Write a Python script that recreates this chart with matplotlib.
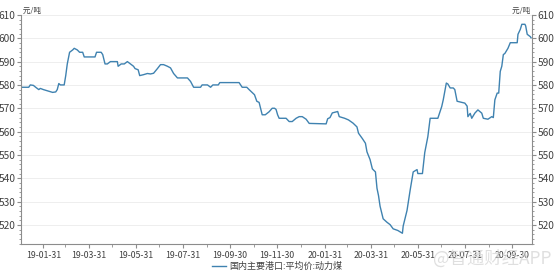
import pandas as pd
import matplotlib.pyplot as plt
import matplotlib.dates as mdates
from matplotlib.ticker import MultipleLocator

plt.rcParams['font.family'] = ['Noto Sans CJK SC', 'DejaVu Sans']

# 国内主要港口:平均价:动力煤 (元/吨)
dates = [
    "2019-01-02", "2019-01-12", "2019-01-14", "2019-01-18", "2019-01-21", "2019-01-25",
    "2019-01-27", "2019-01-31", "2019-02-05", "2019-02-12", "2019-02-16", "2019-02-18",
    "2019-02-20", "2019-02-22", "2019-02-27", "2019-03-01", "2019-03-03", "2019-03-06",
    "2019-03-10", "2019-03-12", "2019-03-16", "2019-03-19", "2019-03-23", "2019-03-25",
    "2019-04-08", "2019-04-10", "2019-04-16", "2019-04-18", "2019-04-21", "2019-04-24",
    "2019-04-28", "2019-05-07", "2019-05-08", "2019-05-12", "2019-05-16", "2019-05-20",
    "2019-05-24", "2019-05-28", "2019-05-30", "2019-06-03", "2019-06-05", "2019-06-10",
    "2019-06-15", "2019-06-19", "2019-06-23", "2019-06-28", "2019-07-02", "2019-07-06",
    "2019-07-11", "2019-07-15", "2019-07-19", "2019-07-24", "2019-08-06", "2019-08-10",
    "2019-08-14", "2019-08-23", "2019-08-25", "2019-09-01", "2019-09-05", "2019-09-08",
    "2019-09-15", "2019-09-17", "2019-10-12", "2019-10-16", "2019-10-22", "2019-10-25",
    "2019-11-01", "2019-11-04", "2019-11-07", "2019-11-11", "2019-11-15", "2019-11-20",
    "2019-11-24", "2019-11-27", "2019-11-29", "2019-12-01", "2019-12-03", "2019-12-12",
    "2019-12-16", "2019-12-20", "2019-12-25", "2019-12-29", "2020-01-02", "2020-01-07",
    "2020-01-11", "2020-02-02", "2020-02-04", "2020-02-07", "2020-02-10", "2020-02-17",
    "2020-02-19", "2020-02-26", "2020-03-02", "2020-03-08", "2020-03-13", "2020-03-15",
    "2020-03-20", "2020-03-24", "2020-03-26", "2020-03-30", "2020-04-02", "2020-04-06",
    "2020-04-08", "2020-04-10", "2020-04-12", "2020-04-16", "2020-04-21", "2020-04-25",
    "2020-04-29", "2020-05-05", "2020-05-11", "2020-05-12", "2020-05-17", "2020-05-21",
    "2020-05-25", "2020-05-30", "2020-05-31", "2020-06-06", "2020-06-09", "2020-06-13",
    "2020-06-16", "2020-06-26", "2020-07-01", "2020-07-03", "2020-07-07", "2020-07-09",
    "2020-07-12", "2020-07-16", "2020-07-18", "2020-07-21", "2020-07-31", "2020-08-03",
    "2020-08-04", "2020-08-07", "2020-08-09", "2020-08-13", "2020-08-17", "2020-08-22",
    "2020-08-24", "2020-08-30", "2020-09-04", "2020-09-06", "2020-09-08", "2020-09-11",
    "2020-09-13", "2020-09-15", "2020-09-17", "2020-09-19", "2020-09-21", "2020-09-24",
    "2020-09-25", "2020-09-28", "2020-10-07", "2020-10-08", "2020-10-11", "2020-10-13",
    "2020-10-17", "2020-10-18", "2020-10-20", "2020-10-24", "2020-10-25",
]
prices = [
    579, 579, 580, 579.8, 579, 578,
    578.5, 578, 577.5, 576.8, 577, 578,
    580.6, 580, 580, 584, 589, 594,
    595, 595.7, 595, 594, 594, 592,
    592, 594, 594, 593, 589, 589,
    590, 590, 588, 589, 589, 590,
    589, 588, 587, 586.5, 584, 584.4,
    584.9, 584.7, 585, 587, 588.7, 588.7,
    588, 587.3, 584.9, 583, 583, 581.5,
    579, 579, 580, 580, 579, 580,
    580, 581, 581, 579, 579, 578,
    575.8, 573, 572.5, 567.2, 567.2, 568.5,
    570, 570, 569.5, 567.2, 565.7, 565.7,
    564.3, 564.3, 565.7, 566.4, 566.4, 565.3,
    563.5, 563.3, 565.5, 566, 568, 568.6,
    566.4, 565.7, 565, 563.6, 562, 559.3,
    557, 555, 551.3, 548, 544, 542.7,
    535.7, 532.5, 528, 522.6, 521.1, 520.1,
    518.3, 517.6, 516.4, 519.5, 526.2, 534.8,
    542.7, 543.7, 542, 542, 551, 557.8,
    565.7, 565.7, 570.7, 573.6, 580.8, 580.4,
    578.7, 578.7, 578, 573, 572.2, 570.9,
    566.4, 567.8, 565.7, 567.9, 569.3, 567.9,
    565.7, 565.3, 566.4, 566, 573.6, 576.5,
    576.5, 585.8, 588, 593, 593.5, 595.2,
    595.7, 598.1, 598.1, 601.7, 603.8, 606,
    606, 605.3, 601.7, 600.7, 600.2,
]
tick_dates = ["2019-01-31", "2019-03-31", "2019-05-31", "2019-07-31", "2019-09-30",
              "2019-11-30", "2020-01-31", "2020-03-31", "2020-05-31", "2020-07-31",
              "2020-09-30"]
series_name = "国内主要港口:平均价:动力煤"
unit = "元/吨"

df = pd.DataFrame({"date": pd.to_datetime(dates), "price": prices})

fig = plt.figure(figsize=(5.54, 2.72), dpi=100)
ax = fig.add_axes([0.038, 0.103, 0.922, 0.842])

line_color = "#3f82b0"
axis_color = "#8c8c8c"
text_color = "#404040"

ax.plot(df["date"], df["price"], color=line_color, linewidth=1.0, label=series_name)

ax.set_ylim(511.8, 610)
ax.set_xlim(pd.Timestamp("2019-01-02"), pd.Timestamp("2020-10-26"))
ax.yaxis.set_major_locator(MultipleLocator(10))
ax.yaxis.set_minor_locator(MultipleLocator(2))
ax.grid(axis="y", color="#eeeeee", linewidth=0.7)
ax.set_axisbelow(True)

ticks = pd.to_datetime(tick_dates)
ax.set_xticks(ticks)
ax.set_xticklabels([t.strftime("%y-%m-%d") for t in ticks])
ax.xaxis.set_minor_locator(mdates.MonthLocator(bymonthday=-1))

ax.tick_params(axis="y", which="both", left=True, right=True, labelleft=True,
               labelright=True, labelsize=7.3, colors=axis_color, labelcolor=text_color, pad=1)
ax.tick_params(axis="y", which="major", length=3)
ax.tick_params(axis="y", which="minor", length=1.5)
ax.tick_params(axis="x", which="major", labelsize=6.3, length=3, colors=axis_color,
               labelcolor=text_color, pad=2)
ax.tick_params(axis="x", which="minor", length=2, colors=axis_color)

ax.spines["top"].set_visible(False)
for s in ["left", "right", "bottom"]:
    ax.spines[s].set_color(axis_color)
    ax.spines[s].set_linewidth(0.8)

ax.text(0.0, 1.0, " " + unit, transform=ax.transAxes, fontsize=5.5, color=text_color,
        ha="left", va="bottom")
ax.text(1.0, 1.0, unit + " ", transform=ax.transAxes, fontsize=5.5, color=text_color,
        ha="right", va="bottom")

fig.legend(loc="lower center", bbox_to_anchor=(0.5, -0.025), frameon=False, fontsize=6.5,
           handlelength=1.6, handletextpad=0.3, labelcolor=text_color)

# watermark, as in the source image
fig.text(0.995, 0.015, "@智通财经APP", fontsize=12.5, color="#d8d8d8", ha="right",
         va="bottom", alpha=0.8)

fig.savefig("out.png", dpi=100)
